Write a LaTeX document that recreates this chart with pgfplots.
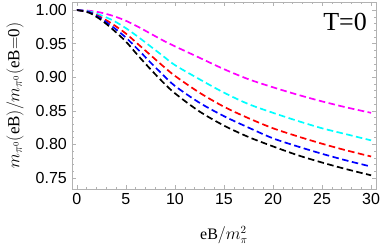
\documentclass[border=0pt]{standalone}
\usepackage{fontspec}
\setmainfont{Liberation Serif}
\newfontfamily\arialf{Liberation Sans}
\usepackage{pgfplots}
\pgfplotsset{compat=1.18}
\definecolor{mmag}{rgb}{1,0,1}
\definecolor{mcyan}{rgb}{0,1,1}
\definecolor{mred}{rgb}{1,0,0}
\definecolor{mblue}{rgb}{0,0,1}
\begin{document}
\begin{tikzpicture}
\begin{axis}[
  at={(0,0)}, anchor=south west,
  scale only axis, width=304pt, height=187pt,
  xmin=-0.5, xmax=30.5, ymin=0.7336, ymax=1.012,
  xtick={0,5,...,30}, minor x tick num=4,
  ytick={0.75,0.80,...,1.0}, minor y tick num=4,
  y tick label style={/pgf/number format/fixed, /pgf/number format/fixed zerofill, /pgf/number format/precision=2},
  /pgf/number format/assume math mode=true,
  ticklabel style={font=\arialf\fontsize{16}{18}\selectfont},
  xticklabel style={inner sep=2pt, yshift=-2pt},
  yticklabel style={inner sep=2pt, xshift=-3pt},
  tick align=inside, major tick length=4pt, minor tick length=2pt,
  every tick/.style={gray!60, line width=0.5pt},
  axis line style={gray!60, line width=0.7pt},
  every axis plot/.append style={line width=1.7pt, dash pattern=on 6.5pt off 3.5pt, smooth},
]
\addplot[mmag] coordinates {(0,1.0)(1.25,0.999)(2.5,0.996)(3.75,0.991)(5,0.984)(6.25,0.975)(7.5,0.965)(8.75,0.955)(10,0.946)(12.5,0.929)(15,0.912)(17.5,0.897)(20,0.885)(22.5,0.874)(25,0.864)(27.5,0.855)(30,0.847)};
\addplot[mcyan] coordinates {(0,1.0)(1.25,0.998)(2.5,0.992)(3.75,0.984)(5,0.973)(6.25,0.960)(7.5,0.946)(8.75,0.932)(10,0.918)(12.5,0.897)(15,0.877)(17.5,0.860)(20,0.847)(22.5,0.835)(25,0.824)(27.5,0.815)(30,0.806)};
\addplot[mred] coordinates {(0,1.0)(1.25,0.997)(2.5,0.989)(3.75,0.978)(5,0.965)(6.25,0.949)(7.5,0.933)(8.75,0.917)(10,0.902)(12.5,0.877)(15,0.856)(17.5,0.839)(20,0.824)(22.5,0.812)(25,0.801)(27.5,0.791)(30,0.782)};
\addplot[mblue] coordinates {(0,1.0)(1.25,0.997)(2.5,0.987)(3.75,0.974)(5,0.959)(6.25,0.941)(7.5,0.922)(8.75,0.904)(10,0.887)(12.5,0.862)(15,0.842)(17.5,0.825)(20,0.809)(22.5,0.797)(25,0.786)(27.5,0.776)(30,0.767)};
\addplot[black] coordinates {(0,1.0)(1.25,0.996)(2.5,0.985)(3.75,0.970)(5,0.953)(6.25,0.932)(7.5,0.912)(8.75,0.893)(10,0.876)(12.5,0.849)(15,0.828)(17.5,0.811)(20,0.797)(22.5,0.784)(25,0.773)(27.5,0.763)(30,0.754)};
\node[anchor=north east, inner sep=0pt, font=\fontsize{26}{28}\selectfont] at (rel axis cs:1,1) [xshift=-9pt, yshift=-11pt] {T=0};
\end{axis}
\node[font=\fontsize{16}{18}\selectfont, inner sep=0pt] at (152pt,-46pt) {eB$/m_\pi^2$};
\node[font=\fontsize{17}{19}\selectfont, inner sep=0pt, rotate=90] at (-57pt,93.5pt) {$m_{\pi^0}(\mathrm{eB})/m_{\pi^0}(\mathrm{eB{=}0})$};
\pgfresetboundingbox
\useasboundingbox (-72pt,-56pt) rectangle (310pt,189pt);
\end{tikzpicture}
\end{document}
